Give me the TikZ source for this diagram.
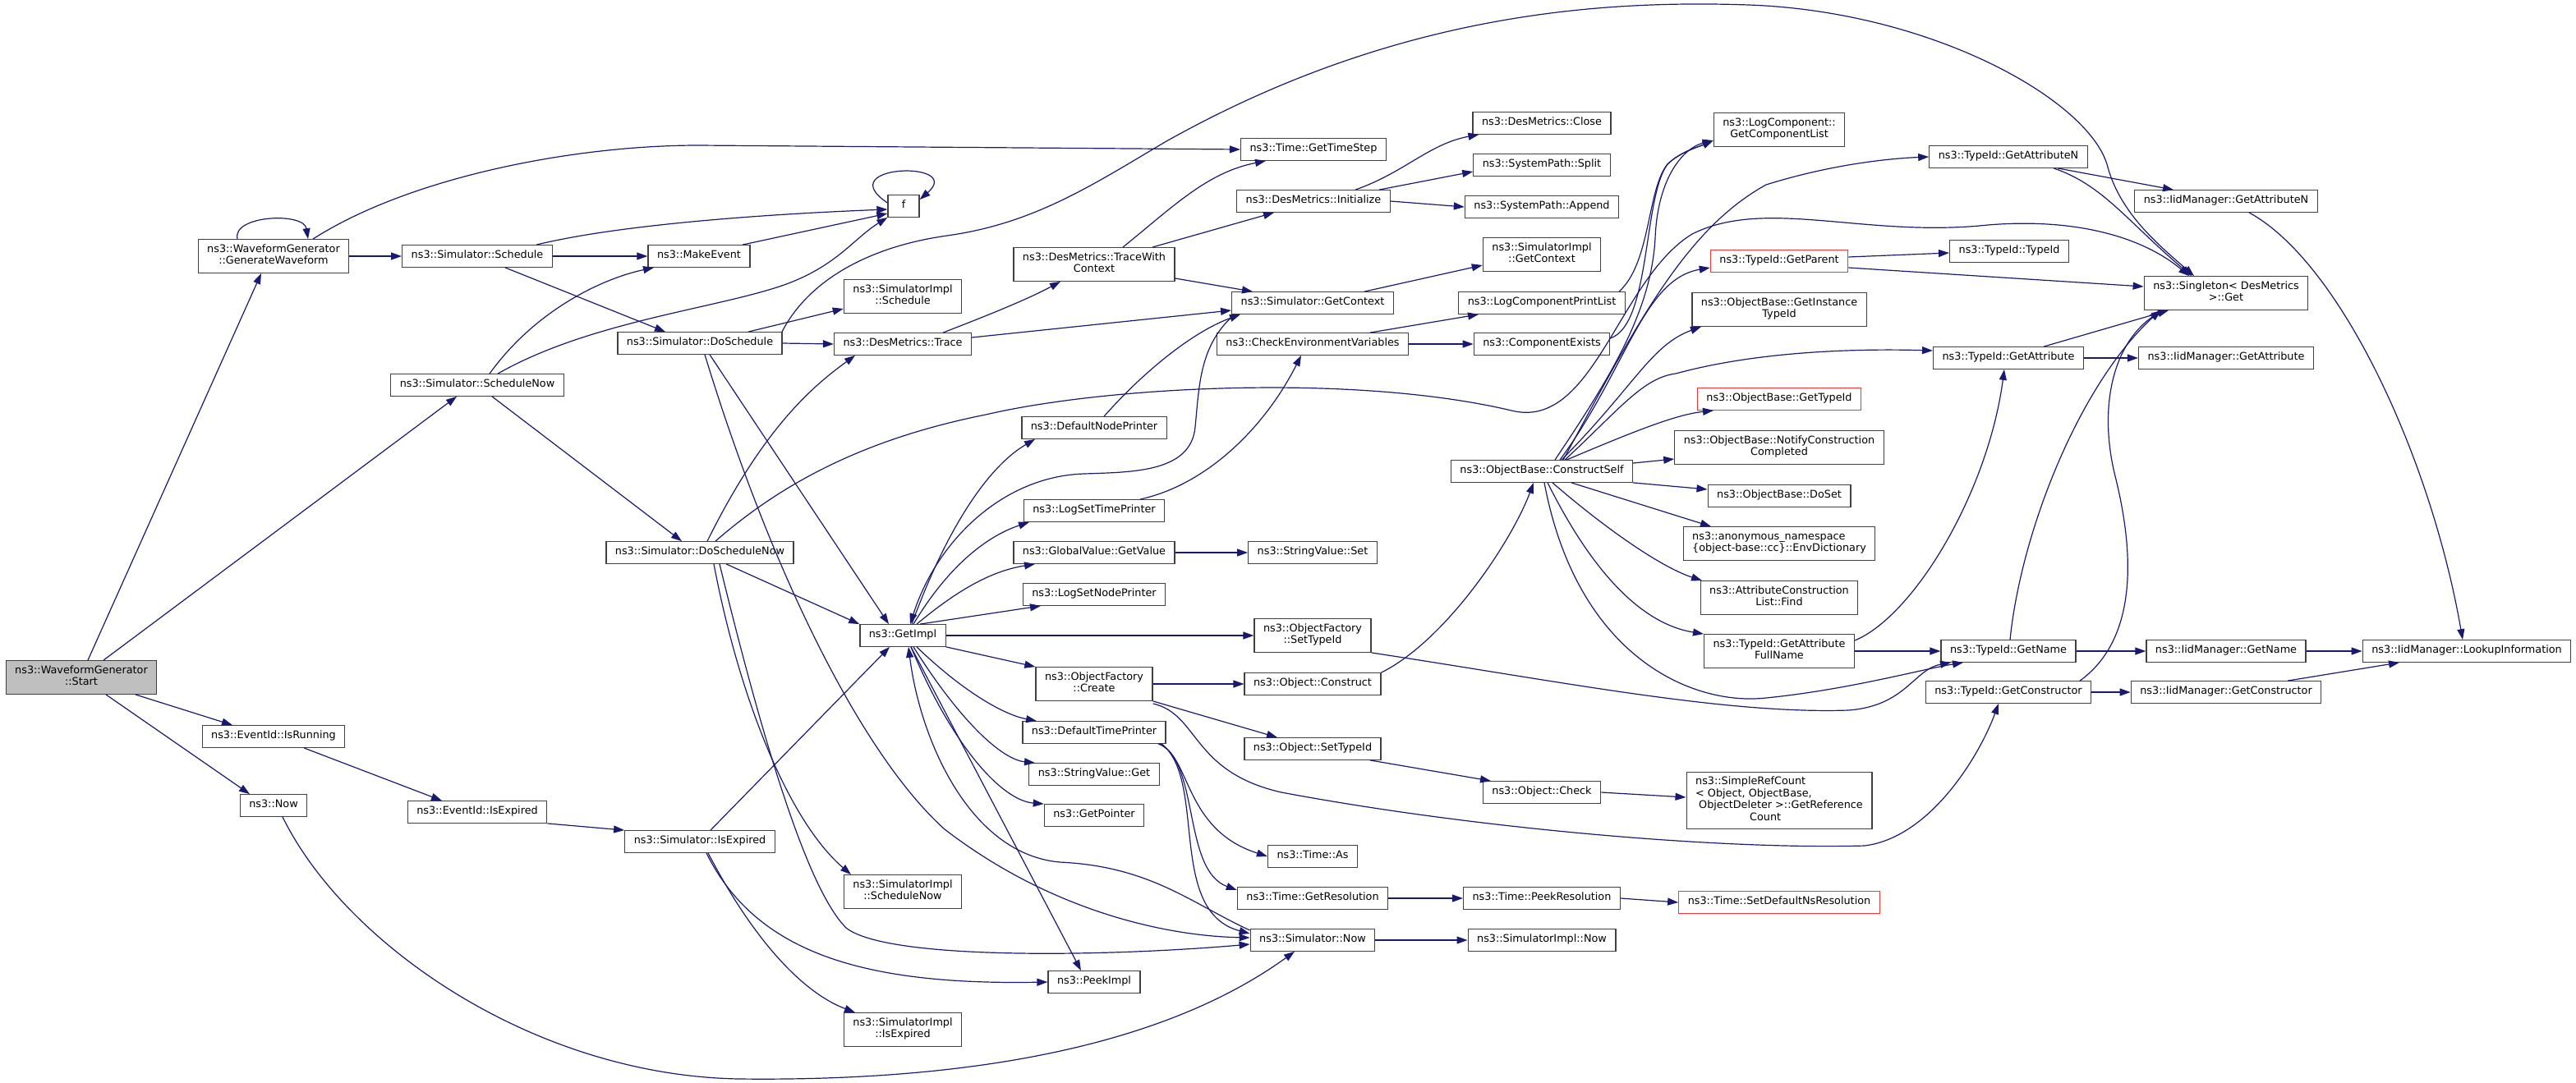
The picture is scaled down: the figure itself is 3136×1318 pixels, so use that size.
\documentclass[tikz,border=0pt]{standalone}
\usepackage{fontspec}
\setmainfont{DejaVu Sans}
\usetikzlibrary{arrows.meta}
\definecolor{edgeblue}{HTML}{191970}
\definecolor{boxline}{HTML}{404040}
\definecolor{boxred}{HTML}{FF3333}
\definecolor{rootgray}{HTML}{BFBFBF}
\tikzset{
  fn/.style={draw=boxline, line width=1.3pt, fill=white, align=center, inner xsep=11pt, inner ysep=6pt,
    minimum height=26pt, font=\fontsize{12.8}{14.5}\selectfont,
    execute at begin node=\strut, execute at end node=\strut},
  fnred/.style={fn, draw=boxred},
  fnroot/.style={fn, fill=rootgray},
  call/.style={draw=edgeblue, line width=1.2pt, -{Triangle[length=13pt,width=9pt]}}
}
\begin{document}
\begin{tikzpicture}[x=1pt,y=-1pt]
\useasboundingbox (0,0) rectangle (3136,1318);

\node[fnroot] (start) at (99,825) {ns3::WaveformGenerator\\::Start};
\node[fn] (gen) at (333,312) {ns3::WaveformGenerator\\::GenerateWaveform};
\node[fn] (isrun) at (333,897) {ns3::EventId::IsRunning};
\node[fn] (now) at (333,981) {ns3::Now};
\node[fn] (sched) at (581,312) {ns3::Simulator::Schedule};
\node[fn] (schednow) at (581,469) {ns3::Simulator::ScheduleNow};
\node[fn] (evexp) at (581,989) {ns3::EventId::IsExpired};
\node[fn] (mkevent) at (851,312) {ns3::MakeEvent};
\node[fn] (dosched) at (852,418) {ns3::Simulator::DoSchedule};
\node[fn] (doschednow) at (852,673) {ns3::Simulator::DoScheduleNow};
\node[fn] (simexp) at (852,1025) {ns3::Simulator::IsExpired};
\node[fn, minimum width=38pt] (f) at (1100,251) {f};
\node[fn] (implsched) at (1099,361) {ns3::SimulatorImpl\\::Schedule};
\node[fn] (trace) at (1099,419) {ns3::DesMetrics::Trace};
\node[fn] (getimpl) at (1099,774) {ns3::GetImpl};
\node[fn] (implschednow) at (1099,1086) {ns3::SimulatorImpl\\::ScheduleNow};
\node[fn] (implexp) at (1099,1254) {ns3::SimulatorImpl\\::IsExpired};
\node[fn] (tracectx) at (1332,322) {ns3::DesMetrics::TraceWith\\Context};
\node[fn] (nodeprn) at (1332,521) {ns3::DefaultNodePrinter};
\node[fn] (logtime) at (1332,622) {ns3::LogSetTimePrinter};
\node[fn] (gvget) at (1332,673) {ns3::GlobalValue::GetValue};
\node[fn] (lognode) at (1332,724) {ns3::LogSetNodePrinter};
\node[fn] (ofcreate) at (1332,833) {ns3::ObjectFactory\\::Create};
\node[fn] (timeprn) at (1332,892) {ns3::DefaultTimePrinter};
\node[fn] (svget) at (1332,943) {ns3::StringValue::Get};
\node[fn] (getptr) at (1332,993) {ns3::GetPointer};
\node[fn] (peek) at (1332,1196) {ns3::PeekImpl};
\node[fn] (timestep) at (1599,182) {ns3::Time::GetTimeStep};
\node[fn] (init) at (1599,245) {ns3::DesMetrics::Initialize};
\node[fn] (simctx) at (1598,369) {ns3::Simulator::GetContext};
\node[fn] (checkenv) at (1598,419) {ns3::CheckEnvironmentVariables};
\node[fn] (svset) at (1598,673) {ns3::StringValue::Set};
\node[fn] (ofsettid) at (1598,774) {ns3::ObjectFactory\\::SetTypeId};
\node[fn] (construct) at (1598,833) {ns3::Object::Construct};
\node[fn] (osettid) at (1598,912) {ns3::Object::SetTypeId};
\node[fn] (timeas) at (1598,1043) {ns3::Time::As};
\node[fn] (getres) at (1598,1094) {ns3::Time::GetResolution};
\node[fn] (simnow) at (1598,1145) {ns3::Simulator::Now};
\node[fn] (close) at (1877,150) {ns3::DesMetrics::Close};
\node[fn] (split) at (1877,201) {ns3::SystemPath::Split};
\node[fn] (append) at (1877,252) {ns3::SystemPath::Append};
\node[fn] (implctx) at (1877,310) {ns3::SimulatorImpl\\::GetContext};
\node[fn] (printlist) at (1877,369) {ns3::LogComponentPrintList};
\node[fn] (compexists) at (1877,419) {ns3::ComponentExists};
\node[fn] (cself) at (1877,574) {ns3::ObjectBase::ConstructSelf};
\node[fn] (check) at (1877,965) {ns3::Object::Check};
\node[fn] (peekres) at (1877,1094) {ns3::Time::PeekResolution};
\node[fn] (implnow) at (1877,1145) {ns3::SimulatorImpl::Now};
\node[fn] (complist) at (2166,158) {ns3::LogComponent::\\GetComponentList};
\node[fnred] (getparent) at (2166,318) {ns3::TypeId::GetParent};
\node[fn] (insttid) at (2166,377) {ns3::ObjectBase::GetInstance\\TypeId};
\node[fnred] (gettid) at (2166,486) {ns3::ObjectBase::GetTypeId};
\node[fn] (notify) at (2166,545) {ns3::ObjectBase::NotifyConstruction\\Completed};
\node[fn] (doset) at (2166,604) {ns3::ObjectBase::DoSet};
\node[fn, align=left] (envdict) at (2166,662) {ns3::anonymous\_namespace\\\{object-base::cc\}::EnvDictionary};
\node[fn] (acfind) at (2166,728) {ns3::AttributeConstruction\\List::Find};
\node[fn] (fullname) at (2166,793) {ns3::TypeId::GetAttribute\\FullName};
\node[fn, align=left] (refcount) at (2166,975) {ns3::SimpleRefCount\\< Object, ObjectBase,\\\hspace*{4pt}ObjectDeleter >::GetReference\\\hspace*{66pt}Count};
\node[fnred] (setres) at (2166,1099) {ns3::Time::SetDefaultNsResolution};
\node[fn] (attrn) at (2445,191) {ns3::TypeId::GetAttributeN};
\node[fn] (tidctor) at (2446,306) {ns3::TypeId::TypeId};
\node[fn] (getattr) at (2445,436) {ns3::TypeId::GetAttribute};
\node[fn] (getname) at (2445,793) {ns3::TypeId::GetName};
\node[fn] (getctor) at (2445,843) {ns3::TypeId::GetConstructor};
\node[fn] (iidattrn) at (2710,245) {ns3::IidManager::GetAttributeN};
\node[fn] (singleton) at (2710,357) {ns3::Singleton< DesMetrics\\ >::Get};
\node[fn] (iidattr) at (2710,436) {ns3::IidManager::GetAttribute};
\node[fn] (iidname) at (2710,793) {ns3::IidManager::GetName};
\node[fn] (iidctor) at (2710,843) {ns3::IidManager::GetConstructor};
\node[fn] (lookup) at (3003,793) {ns3::IidManager::LookupInformation};

\draw[call] ([xshift=8pt]start.north) -- ([xshift=-15pt]gen.south);
\draw[call] ([xshift=27pt]start.north) -- ([xshift=-25pt]schednow.south);
\draw[call] ([xshift=66pt]start.south) -- ([xshift=-50pt]isrun.north);
\draw[call] ([xshift=30pt]start.south) -- ([xshift=-29pt]now.north);
\draw[call] ([xshift=37pt]isrun.south) -- ([xshift=-43pt]evexp.north);
\draw[call] (evexp.south east) -- (simexp.north west);
\draw[call] ([xshift=11pt]now.south) .. controls (420,1150) and (650,1310) .. (900,1314) .. controls (1250,1318) and (1450,1250) .. ([xshift=-22pt]simnow.south);

\draw[call] ([xshift=-44pt]gen.north) .. controls (282,262) and (370,258) .. ([xshift=42pt]gen.north);
\draw[call] (gen.east) -- (sched.west);
\draw[call] ([xshift=48pt]gen.north) .. controls (500,215) and (700,177) .. (850,177) -- (timestep.west);
\draw[call] (sched.east) -- (mkevent.west);
\draw[call] ([xshift=34pt]sched.south) -- ([xshift=-42pt]dosched.north);
\draw[call] ([xshift=72pt]sched.north) .. controls (760,272) and (950,260) .. ([yshift=-4pt]f.west);
\draw[call] ([xshift=53pt]mkevent.north) -- ([yshift=-9pt]f.west);
\draw[call] ([yshift=4pt]f.west) .. controls (1010,200) and (1175,195) .. ([yshift=8pt]f.east);
\draw[call] ([xshift=15pt]schednow.north) .. controls (650,380) and (730,340) .. ([xshift=-55pt]mkevent.south);
\draw[call] ([xshift=18pt]schednow.south) -- ([xshift=-22pt]doschednow.north);
\draw[call] ([xshift=25pt]schednow.north) .. controls (720,390) and (880,375) .. (960,345) .. controls (1020,322) and (1040,290) .. (f.south west);

\draw[call] ([xshift=59pt]dosched.north) -- ([yshift=-15pt]implsched.west);
\draw[call] (dosched.east) -- (trace.west);
\draw[call] ([xshift=100pt]dosched.north) .. controls (985,340) and (1060,300) .. (1153,287) .. controls (1260,272) and (1330,225) .. (1420,172) .. controls (1700,15) and (1950,0) .. (2129,6) .. controls (2350,14) and (2540,120) .. (2565,200) .. controls (2580,260) and (2630,300) .. ([xshift=-39pt]singleton.north);
\draw[call] ([xshift=12pt]dosched.south) -- ([xshift=-17pt]getimpl.north);
\draw[call] ([xshift=6pt]dosched.south) .. controls (940,700) and (1050,920) .. (1150,1010) .. controls (1280,1110) and (1420,1140) .. ([yshift=3pt]simnow.west);

\draw[call] ([xshift=9pt]doschednow.north) .. controls (930,520) and (990,470) .. ([xshift=-58pt]trace.south);
\draw[call] ([xshift=19pt]doschednow.north) .. controls (950,590) and (1050,535) .. (1200,505) .. controls (1350,470) and (1650,455) .. (1840,500) .. controls (1940,525) and (1970,340) .. (2060,285) .. controls (2150,240) and (2270,290) .. (2420,274) .. controls (2530,265) and (2610,290) .. ([xshift=-45pt]singleton.north);
\draw[call] ([xshift=32pt]doschednow.south) -- (getimpl.north west);
\draw[call] ([xshift=17pt]doschednow.south) .. controls (900,850) and (960,1000) .. ([xshift=-63pt]implschednow.north);
\draw[call] ([xshift=24pt]doschednow.south) .. controls (940,950) and (990,1090) .. (1030,1130) .. controls (1080,1170) and (1350,1165) .. ([yshift=-5pt]simnow.west);

\draw[call] ([xshift=13pt]simexp.north) -- ([xshift=-16pt]getimpl.south);
\draw[call] ([xshift=10pt]simexp.south) .. controls (920,1150) and (980,1210) .. ([xshift=-58pt]implexp.north);
\draw[call] ([xshift=8pt]simexp.south) .. controls (920,1160) and (1050,1200) .. (peek.west);

\draw[call] ([xshift=11pt]getimpl.north) .. controls (1150,650) and (1200,570) .. ([xshift=-72pt]nodeprn.south);
\draw[call] ([xshift=13pt]getimpl.north) .. controls (1160,680) and (1210,650) .. ([xshift=-79pt]logtime.south);
\draw[call] ([xshift=17pt]getimpl.north) .. controls (1170,715) and (1210,695) .. ([xshift=-72pt]gvget.south);
\draw[call] ([xshift=21pt]getimpl.north) -- ([xshift=-65pt]lognode.south);
\draw[call] (getimpl.east) -- (ofsettid.west);
\draw[call] (getimpl.south east) -- (ofcreate.north west);
\draw[call] ([xshift=17pt]getimpl.south) .. controls (1170,840) and (1220,870) .. ([xshift=-70pt]timeprn.north);
\draw[call] ([xshift=13pt]getimpl.south) .. controls (1170,880) and (1220,925) .. ([xshift=-72pt]svget.north);
\draw[call] ([xshift=10pt]getimpl.south) .. controls (1160,910) and (1220,975) .. (getptr.north west);
\draw[call] ([xshift=10pt]getimpl.south) -- ([xshift=-16pt]peek.north);
\draw[call] ([yshift=12pt]simnow.west) .. controls (1450,1100) and (1400,1055) .. (1290,1050) .. controls (1180,1040) and (1120,900) .. ([xshift=7pt]getimpl.south);
\draw[call] ([xshift=-95pt]simctx.south) .. controls (1460,420) and (1460,470) .. (1455,520) .. controls (1450,575) and (1380,575) .. (1320,577) .. controls (1220,580) and (1140,660) .. ([xshift=9pt]getimpl.north);

\draw[call] ([xshift=12pt]nodeprn.north) .. controls (1390,455) and (1450,405) .. ([xshift=-88pt]simctx.south);
\draw[call] ([xshift=56pt]logtime.north) .. controls (1470,590) and (1540,520) .. ([xshift=-14pt]checkenv.south);
\draw[call] (gvget.east) -- (svset.west);
\draw[call] (ofsettid.south east) .. controls (1900,830) and (2100,870) .. (2250,865) .. controls (2320,860) and (2330,815) .. ([xshift=-70pt]getname.south);
\draw[call] (ofcreate.east) -- (construct.west);
\draw[call] (ofcreate.south east) -- ([xshift=-43pt]osettid.north);
\draw[call] ([yshift=-3pt]ofcreate.south east) .. controls (1460,870) and (1450,940) .. (1560,965) .. controls (1800,1010) and (2100,1035) .. (2270,1030) .. controls (2350,1020) and (2410,920) .. ([xshift=-12pt]getctor.south);
\draw[call] (construct.north east) .. controls (1760,780) and (1840,660) .. ([xshift=-10pt]cself.south);
\draw[call] ([xshift=70pt]osettid.south) -- ([xshift=-62pt]check.north);
\draw[call] (check.east) -- ([yshift=4pt]refcount.west);
\draw[call] ([xshift=78pt]timeprn.south) .. controls (1450,920) and (1440,1010) .. (timeas.west);
\draw[call] ([xshift=80pt]timeprn.south) .. controls (1460,930) and (1440,1060) .. ([yshift=10pt]getres.west);
\draw[call] ([xshift=82pt]timeprn.south) .. controls (1470,950) and (1420,1110) .. ([yshift=8pt]simnow.west);
\draw[call] (getres.east) -- (peekres.west);
\draw[call] (peekres.east) -- (setres.west);
\draw[call] (simnow.east) -- (implnow.west);

\draw[call] ([xshift=35pt]tracectx.north) .. controls (1430,250) and (1470,210) .. ([xshift=-58pt]timestep.south);
\draw[call] ([xshift=71pt]tracectx.north) -- ([xshift=-48pt]init.south);
\draw[call] ([yshift=-17pt]tracectx.east) -- ([xshift=-73pt]simctx.north);
\draw[call] ([xshift=49pt]trace.north) .. controls (1200,385) and (1250,365) .. ([xshift=-41pt]tracectx.south);
\draw[call] ([yshift=8pt]trace.east) -- ([yshift=-9pt]simctx.west);
\draw[call] ([xshift=51pt]init.north) .. controls (1710,210) and (1740,175) .. ([xshift=8pt]close.south west);
\draw[call] ([xshift=80pt]init.north) -- ([yshift=-8pt]split.west);
\draw[call] (init.east) -- (append.west);
\draw[call] ([xshift=63pt]simctx.north) -- ([yshift=-13pt]implctx.west);
\draw[call] ([xshift=70pt]checkenv.north) -- ([xshift=-77pt]printlist.south);
\draw[call] (checkenv.east) -- (compexists.west);
\draw[call] ([xshift=94pt]printlist.north) .. controls (2010,320) and (2005,230) .. (2030,200) .. controls (2045,185) and (2070,178) .. ([yshift=-13pt]complist.west);
\draw[call] ([yshift=7pt]compexists.east) .. controls (2010,395) and (2000,240) .. (2030,200) .. controls (2045,185) and (2070,178) .. ([yshift=-13pt]complist.west);

\draw[call] ([xshift=16pt]cself.north) .. controls (1960,460) and (2010,380) .. (2015,290) .. controls (2018,215) and (2050,180) .. ([yshift=-13pt]complist.west);
\draw[call] ([xshift=22pt]cself.north) .. controls (1980,450) and (2000,340) .. ([yshift=-8pt]getparent.west);
\draw[call] ([xshift=24pt]cself.north) .. controls (1990,470) and (2010,420) .. ([xshift=-95pt]insttid.south);
\draw[call] ([xshift=26pt]cself.north) .. controls (1990,400) and (2050,280) .. (2150,225) .. controls (2230,200) and (2300,193) .. (attrn.west);
\draw[call] ([xshift=28pt]cself.north) .. controls (1970,500) and (2000,460) .. (2040,455) .. controls (2150,425) and (2280,425) .. ([yshift=9pt]getattr.west);
\draw[call] ([xshift=30pt]cself.north) .. controls (1990,525) and (2040,505) .. ([xshift=-80pt]gettid.south);
\draw[call] ([yshift=10pt]cself.east) -- ([yshift=-14pt]notify.west);
\draw[call] (cself.south east) -- ([yshift=8pt]doset.west);
\draw[call] ([xshift=36pt]cself.south) -- ([xshift=-83pt]envdict.north);
\draw[call] ([xshift=13pt]cself.south) .. controls (1950,640) and (2020,690) .. ([xshift=-94pt]acfind.north);
\draw[call] ([xshift=7pt]cself.south) .. controls (1940,700) and (2000,760) .. (fullname.north west);
\draw[call] ([xshift=3pt]cself.south) .. controls (1920,800) and (2060,860) .. (2150,850) .. controls (2250,840) and (2340,815) .. ([xshift=-55pt]getname.south);

\draw[call] (fullname.east) -- (getname.west);
\draw[call] ([yshift=13pt]fullname.east) .. controls (2330,750) and (2420,600) .. ([xshift=-5pt]getattr.south);
\draw[call] ([yshift=5pt]getparent.east) -- ([yshift=-2pt]tidctor.west);
\draw[call] ([yshift=-8pt]getparent.east) -- ([yshift=8pt]singleton.west);
\draw[call] ([xshift=60pt]attrn.south) -- ([xshift=-64pt]iidattrn.north);
\draw[call] ([xshift=55pt]attrn.south) .. controls (2560,225) and (2590,270) .. ([xshift=-42pt]singleton.north);
\draw[call] (getattr.east) -- (iidattr.west);
\draw[call] ([xshift=43pt]getattr.north) -- ([xshift=-70pt]singleton.south);
\draw[call] ([xshift=2pt]getname.north) .. controls (2460,650) and (2530,470) .. ([xshift=-80pt]singleton.south);
\draw[call] ([xshift=87pt]getctor.north) .. controls (2600,780) and (2600,680) .. (2575,580) .. controls (2555,500) and (2570,420) .. ([xshift=-78pt]singleton.south);
\draw[call] (getname.east) -- (iidname.west);
\draw[call] (getctor.east) -- (iidctor.west);
\draw[call] (iidname.east) -- (lookup.west);
\draw[call] ([xshift=75pt]iidctor.north) -- ([xshift=-82pt]lookup.south);
\draw[call] ([xshift=28pt]iidattrn.south) .. controls (2850,320) and (2960,560) .. ([xshift=-5pt]lookup.north);
\end{tikzpicture}
\end{document}
